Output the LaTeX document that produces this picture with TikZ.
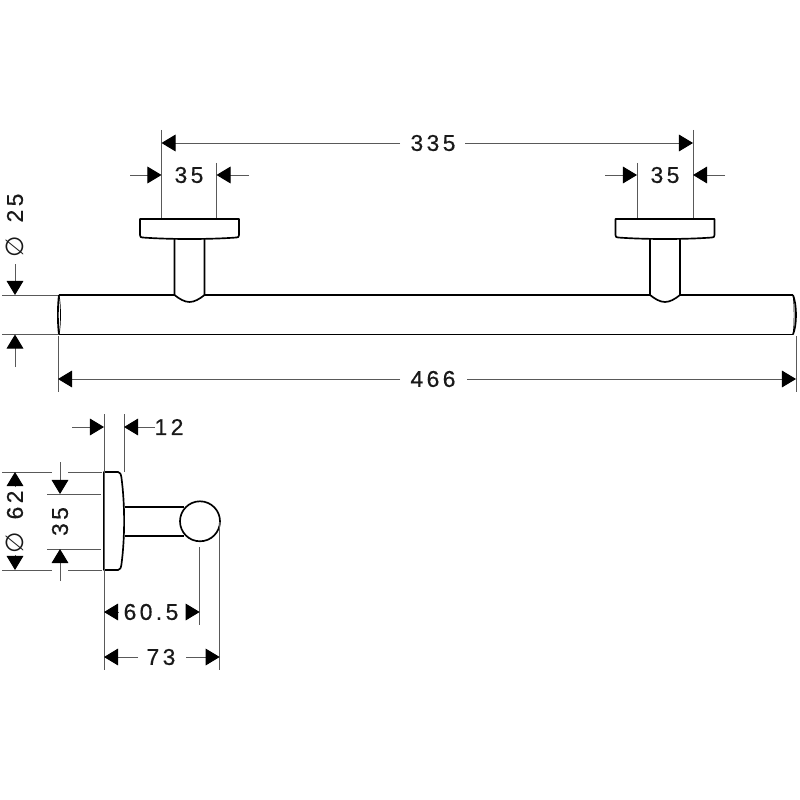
\documentclass[tikz,border=0pt]{standalone}
\usepackage{fontspec}
\setmainfont{Liberation Sans}
\newfontfamily\dimfont[LetterSpace=15, FakeBold=0.5]{Liberation Sans}
\newfontfamily\symfont{DejaVu Sans}
\usetikzlibrary{arrows.meta}
\tikzstyle{part}=[draw=black, line width=0.95pt, line join=round]
\tikzstyle{thin dim}=[draw=black!65, line width=0.55pt]
\tikzstyle{dim}=[thin dim, -{Triangle[length=8pt, width=9.5pt, color=black]}]
\tikzstyle{size}=[inner sep=0pt, font=\fontsize{13}{15}\dimfont, text=black!90]
\tikzstyle{dia}=[inner sep=0pt, font=\fontsize{14}{16}\symfont, text=black!90, rotate=90]
\begin{document}
\begin{tikzpicture}[x=0.02cm, y=-0.02cm]
	\useasboundingbox (0, 0) rectangle (800, 800);
	% rail
	\begin{scope}
		\coordinate (railtl) at (59, 295);
		\coordinate (railbl) at (59, 334.5);
		\coordinate (railtr) at (793, 295);
		\coordinate (railbr) at (793, 334.5);
		\draw[part] (railbl) -- (railbr);
		\draw[part] (railtl) -- (174.5, 295);
		\draw[part] (204, 295) -- (650.5, 295);
		\draw[part] (680, 295) -- (railtr);
		\draw[part] (railtl) .. controls (57.5, 305) and (57.5, 325) .. (railbl);
		\draw[line width=0.4pt] (railtl) .. controls (61, 305) and (61, 325) .. (railbl);
		\draw[part] (railtr) .. controls (797, 305) and (797, 325) .. (railbr);
		\draw[line width=0.4pt] (railtr) .. controls (794.5, 305) and (794.5, 325) .. (railbr);
	\end{scope}
	% wall mounts, front view
	\foreach \cx in {189.5, 665} {
		\begin{scope}[shift={(\cx, 0)}]
			\draw[part] (-49.5, 219) -- (49.5, 219) -- (49.5, 235)
				.. controls (49.5, 237) and (48.5, 237.5) .. (47, 237.5)
				.. controls (20, 239.5) and (-20, 239.5) .. (-47, 237.5)
				.. controls (-48.5, 237.5) and (-49.5, 237) .. (-49.5, 235) -- cycle;
			\draw[part] (-15, 239) -- (-15, 295)
				.. controls (-10, 299) and (-5, 302) .. (0, 302)
				.. controls (5, 302) and (10, 299) .. (15, 295) -- (15, 239);
		\end{scope}
	}
	% side view
	\begin{scope}
		\node (knob) at (200, 521.3) [circle, part, minimum size=40*0.02cm, inner sep=0pt] {};
		\draw[part] (104, 472) -- (118, 472)
			.. controls (120, 472) and (121, 474) .. (121.5, 478)
			.. controls (125, 505) and (125, 537) .. (121.5, 564)
			.. controls (121, 568) and (120, 570) .. (118, 570) -- (104, 570) -- cycle;
		\draw[part] (124.5, 507.3) -- (184, 507.3);
		\draw[part] (124.5, 536) -- (184, 536);
	\end{scope}
	% extension lines
	\begin{scope}
		\draw[thin dim] (161.5, 130) -- (161.5, 218);
		\draw[thin dim] (693, 130) -- (693, 218);
		\draw[thin dim] (216.5, 163) -- (216.5, 218);
		\draw[thin dim] (637, 163) -- (637, 218);
		\draw[thin dim] (2, 295) -- (58, 295);
		\draw[thin dim] (2, 334.5) -- (58, 334.5);
		\draw[thin dim] (58, 336) -- (58, 392);
		\draw[thin dim] (796, 336) -- (796, 392);
		\draw[thin dim] (104, 414) -- (104, 670);
		\draw[thin dim] (124, 414) -- (124, 472);
		\draw[thin dim] (2, 472) -- (52, 472);
		\draw[thin dim] (68, 472) -- (102, 472);
		\draw[thin dim] (2, 570) -- (52, 570);
		\draw[thin dim] (68, 570) -- (102, 570);
		\draw[thin dim] (47, 494) -- (101, 494);
		\draw[thin dim] (47, 549) -- (101, 549);
		\draw[thin dim] (199.7, 547) -- (199.7, 625);
		\draw[thin dim] (219.7, 522) -- (219.7, 670);
	\end{scope}
	% dimensions, top drawing
	\begin{scope}
		\node (d335) at (433, 143) [size] {335};
		\draw[dim] (400, 143) -- (161.5, 143);
		\draw[dim] (465, 143) -- (693, 143);
		\node (d35l) at (189, 175) [size] {35};
		\draw[dim] (130, 175) -- (161.5, 175);
		\draw[dim] (249, 175) -- (216.5, 175);
		\node (d35r) at (665, 175) [size] {35};
		\draw[dim] (605, 175) -- (637, 175);
		\draw[dim] (725, 175) -- (693, 175);
		\node (d25) at (15, 208) [size, rotate=90] {25};
		\node (p25) at (15, 247) [dia] {∅};
		\draw[dim] (15, 264) -- (15, 295);
		\draw[dim] (15, 367) -- (15, 334.5);
		\node (d466) at (433, 379) [size] {466};
		\draw[dim] (400, 379) -- (58, 379);
		\draw[dim] (467, 379) -- (796, 379);
	\end{scope}
	% dimensions, side drawing
	\begin{scope}
		\node (d12) at (169, 427) [size] {12};
		\draw[dim] (72, 427) -- (104, 427);
		\draw[dim] (155, 427) -- (124, 427);
		\node (d62) at (15, 505) [size, rotate=90] {62};
		\node (p62) at (15, 543) [dia] {∅};
		\draw[dim] (15, 487) -- (15, 472);
		\draw[dim] (15, 555) -- (15, 570);
		\node (d35v) at (60, 521.5) [size, rotate=90] {35};
		\draw[dim] (60, 462) -- (60, 494);
		\draw[dim] (60, 581) -- (60, 549);
		\node (d605) at (151, 612) [size] {60.5};
		\draw[dim] (118, 612) -- (104, 612);
		\draw[dim] (186, 612) -- (199.7, 612);
		\node (d73) at (161, 657) [size] {73};
		\draw[dim] (138, 657) -- (104, 657);
		\draw[dim] (186, 657) -- (219.7, 657);
	\end{scope}
\end{tikzpicture}
\end{document}
